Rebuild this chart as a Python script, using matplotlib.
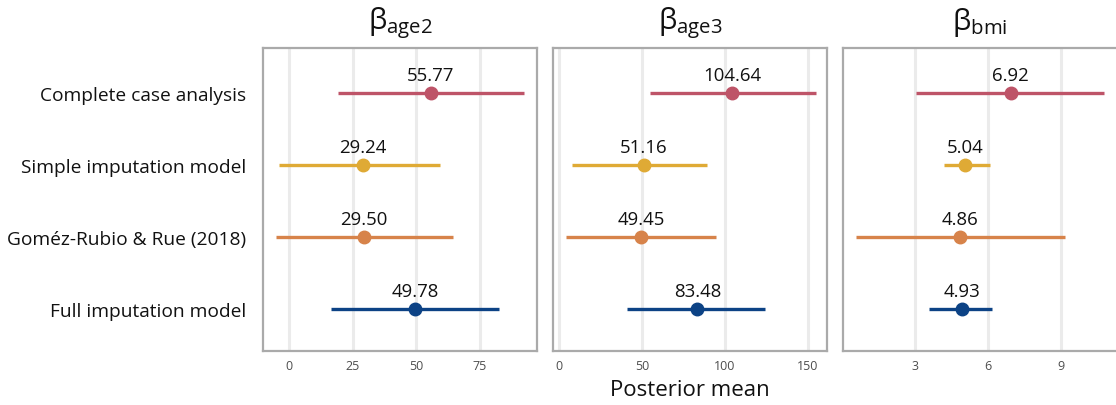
"""Posterior means with intervals for three coefficients under four models."""

import matplotlib.pyplot as plt

plt.rcParams["font.family"] = ["Open Sans", "DejaVu Sans"]
plt.rcParams["mathtext.fontset"] = "custom"
plt.rcParams["mathtext.rm"] = "Open Sans"

models = [
    "Complete case analysis",
    "Simple imputation model",
    "Goméz-Rubio & Rue (2018)",
    "Full imputation model",
]
colors = ["#BE5468", "#DFAA35", "#D7834A", "#0C4285"]

params = ["age2", "age3", "bmi"]
means = {
    "age2": [55.77, 29.24, 29.50, 49.78],
    "age3": [104.64, 51.16, 49.45, 83.48],
    "bmi": [6.92, 5.04, 4.86, 4.93],
}
lower = {
    "age2": [19.3, -3.9, -5.2, 16.5],
    "age3": [55.0, 8.0, 4.0, 40.9],
    "bmi": [3.04, 4.19, 0.56, 3.58],
}
upper = {
    "age2": [92.5, 59.4, 64.6, 82.7],
    "age3": [155.0, 89.2, 94.8, 124.4],
    "bmi": [10.78, 6.08, 9.16, 6.15],
}
ticks = {
    "age2": [0, 25, 50, 75],
    "age3": [0, 50, 100, 150],
    "bmi": [3, 6, 9],
}
xlims = {
    "age2": (-10.2, 97.6),
    "age3": (-3.6, 161.6),
    "bmi": (0.03, 11.3),
}

fig = plt.figure(figsize=(11.16, 4.06), dpi=100)
lefts = [0.2357, 0.4955, 0.7554]
ypos = [4, 3, 2, 1]

for i, (p, left) in enumerate(zip(params, lefts)):
    ax = fig.add_axes([left, 0.133, 0.2455, 0.746])
    for x in ticks[p]:
        ax.axvline(x, color="#ebebeb", lw=2.2, zorder=0)
    for y, m, lo, hi, c in zip(ypos, means[p], lower[p], upper[p], colors):
        ax.plot([lo, hi], [y, y], color=c, lw=2.4, solid_capstyle="butt", zorder=2)
        ax.plot(m, y, "o", color=c, ms=9, zorder=3)
        ax.annotate(f"{m:.2f}", (m, y), xytext=(0, 6.5), textcoords="offset points",
                    ha="center", va="bottom", fontsize=13.4, color="#111111")
    ax.set_xlim(*xlims[p])
    ax.set_ylim(0.417, 4.625)
    ax.set_xticks(ticks[p])
    ax.tick_params(axis="x", length=0, labelsize=9, labelcolor="#4d4d4d", pad=6)
    if i == 0:
        ax.set_yticks(ypos)
        ax.set_yticklabels(models)
        ax.tick_params(axis="y", length=0, labelsize=13.8, labelcolor="#111111", pad=12)
    else:
        ax.set_yticks([])
    for spine in ax.spines.values():
        spine.set_color("#aaaaaa")
        spine.set_linewidth(1.6)
    ax.set_title(r"$\mathrm{β}_{\mathrm{" + p + "}}$", fontsize=21, pad=14, color="#111111")
    if i == 1:
        ax.set_xlabel("Posterior mean", fontsize=16, color="#111111", labelpad=5)

fig.savefig("out.png", dpi=100)
